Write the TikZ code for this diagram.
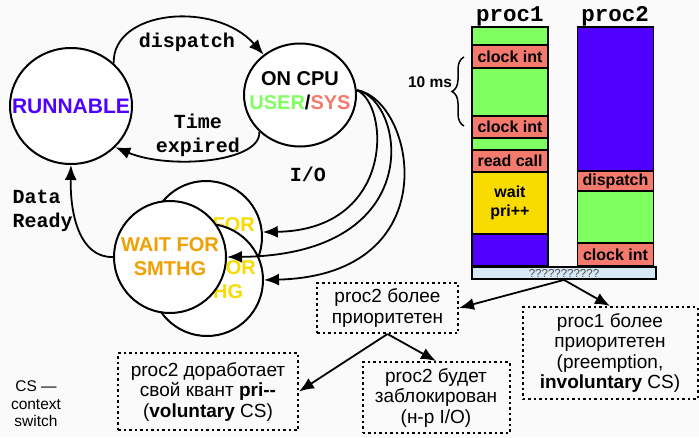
\documentclass[tikz,border=0pt]{standalone}
\usepackage{fontspec}
\setmainfont{Liberation Sans}
\setmonofont{Liberation Mono}
\usetikzlibrary{arrows.meta,shapes.geometric,decorations.pathreplacing}

\definecolor{runblue}{HTML}{5000FF}
\definecolor{cpugreen}{HTML}{80FF60}
\definecolor{sysred}{HTML}{F47A6E}
\definecolor{waitorange}{HTML}{F0A000}
\definecolor{waityellow}{HTML}{F8DC00}
\definecolor{busblue}{HTML}{D6E8F6}
\definecolor{paper}{HTML}{FAFAFA}

\tikzset{
  state/.style={ellipse, draw, line width=2pt, fill=white, inner sep=0pt},
  statetxt/.style={align=center, inner sep=0pt, font=\bfseries\fontsize{20}{24}\selectfont},
  trans/.style={line width=1.8pt, -{Latex[length=15pt,width=12pt]}},
  lbl/.style={font=\ttfamily\bfseries\fontsize{20}{24}\selectfont, align=center},
  seg/.style={draw, line width=1.8pt, minimum width=76pt, inner sep=0pt, align=center,
    font=\bfseries\fontsize{16}{19}\selectfont},
  note/.style={draw, line width=2pt, dash pattern=on 2.5pt off 3pt, align=center,
    inner sep=0pt, font=\fontsize{19}{20.5}\selectfont},
}

\begin{document}
\begin{tikzpicture}[x=1pt, y=-1pt]
  \fill[paper] (0,0) rectangle (699,437);
  \useasboundingbox (0,0) rectangle (699,437);

  % states
  \node (waitA) [state, minimum width=112pt, minimum height=112pt,
    label={[statetxt, text=waityellow]center:WAIT FOR\\SMTHG}] at (206,237) {};
  \node (waitB) [state, minimum width=112pt, minimum height=112pt,
    label={[statetxt, text=waityellow]center:WAIT FOR\\SMTHG}] at (207,280) {};
  \node (wait) [state, minimum width=112pt, minimum height=112pt,
    label={[statetxt, text=waitorange]center:WAIT FOR\\SMTHG}] at (170,257) {};
  \node (runnable) [state, minimum width=122pt, minimum height=116pt,
    label={[statetxt, text=runblue, font=\bfseries\fontsize{21}{24}\selectfont]center:RUNNABLE}] at (71,106) {};
  \node (oncpu) [state, minimum width=112pt, minimum height=103pt,
    label={[statetxt, yshift=4pt]center:ON CPU\\\textcolor{cpugreen}{USER}/\textcolor{sysred}{SYS}}] at (300,95) {};

  % transitions
  \draw[trans] (runnable.45) .. controls (112,10) and (215,0) .. (oncpu.132);
  \draw[trans] (oncpu.222) .. controls (262,162) and (170,170) .. (runnable.-43);
  \draw[trans] (oncpu.5) .. controls (390,105) and (395,230) .. (waitA.5);
  \draw[trans] (oncpu.5) .. controls (405,100) and (430,255) .. (wait.east);
  \draw[trans] (oncpu.5) .. controls (415,100) and (450,275) .. (waitB.east);
  \draw[trans] (wait.west) .. controls (80,258) and (70,215) .. (runnable.south);

  \node (dlbl) [lbl] at (187,42) {dispatch};
  \node (tlbl) [lbl] at (198,135) {Time\\expired};
  \node (iolbl) [lbl] at (308,174) {I/O};
  \node (drlbl) [lbl, align=left, anchor=west] at (9,211) {Data\\Ready};

  % timelines
  \node (proc1) [font=\ttfamily\bfseries\fontsize{22.5}{24}\selectfont] at (510,16) {proc1};
  \node (proc2) [font=\ttfamily\bfseries\fontsize{22.5}{24}\selectfont] at (615,16) {proc2};

  \node (p1s1) [seg, fill=cpugreen, minimum height=18pt] at (510,36) {};
  \node (p1s2) [seg, fill=sysred, minimum height=23pt] at (510,56.5) {clock int};
  \node (p1s3) [seg, fill=cpugreen, minimum height=48pt] at (510,92) {};
  \node (p1s4) [seg, fill=sysred, minimum height=22pt] at (510,127) {clock int};
  \node (p1s5) [seg, fill=cpugreen, minimum height=12pt] at (510,144) {};
  \node (p1s6) [seg, fill=sysred, minimum height=22pt] at (510,161) {read call};
  \node (p1s7) [seg, fill=waityellow, minimum height=62pt] at (510,203) {wait\\pri++};
  \node (p1s8) [seg, fill=runblue, minimum height=32pt] at (510,250) {};

  \node (p2s1) [seg, fill=runblue, minimum height=144pt] at (615.5,99) {};
  \node (p2s2) [seg, fill=sysred, minimum height=20pt] at (615.5,181) {dispatch};
  \node (p2s3) [seg, fill=cpugreen, minimum height=52pt] at (615.5,217) {};
  \node (p2s4) [seg, fill=sysred, minimum height=23pt] at (615.5,254.5) {clock int};

  \node (bus) [seg, fill=busblue, minimum width=184pt, minimum height=12pt,
    font=\fontsize{11.5}{12}\selectfont, text=black!70] at (564,273) {???????????};

  \draw[decorate, decoration={brace, amplitude=12pt}, line width=1.5pt] (464,126) -- (464,57);
  \node (tenms) [font=\bfseries\fontsize{15.5}{18}\selectfont] at (430,82) {10 ms};

  % outcomes
  \node (pri2) [note, minimum width=141pt, minimum height=50pt] at (387.5,308)
    {proc2 более\\приоритетен};
  \node (pri1) [note, minimum width=175pt, minimum height=92pt] at (610,353)
    {proc1 более\\приоритетен\\(preemption,\\\textbf{involuntary} CS)};
  \node (blocked) [note, minimum width=147pt, minimum height=71pt] at (436,397.5)
    {proc2 будет\\заблокирован\\(н-р I/O)};
  \node (volcs) [note, minimum width=180pt, minimum height=77pt] at (208,391.5)
    {proc2 доработает\\свой квант \textbf{pri-{}-}\\(\textbf{voluntary} CS)};

  \draw[trans] (bus.south) -- (pri2.east);
  \draw[trans] (bus.south) -- (pri1.north);
  \draw[trans] (pri2.south) -- (volcs.east);
  \draw[trans] (pri2.south) -- (blocked.north);

  \node (csnote) [align=center, font=\fontsize{15.5}{17.5}\selectfont] at (36,404)
    {CS —\\context\\switch};
\end{tikzpicture}
\end{document}
